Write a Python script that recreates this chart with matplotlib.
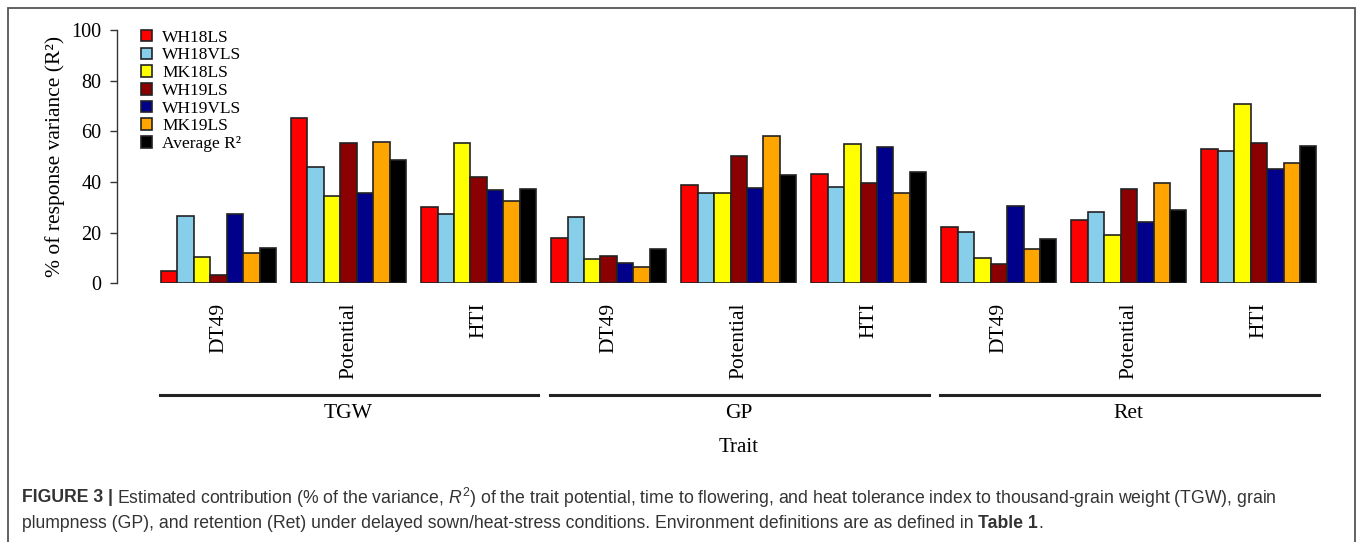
import numpy as np
import matplotlib
matplotlib.use('Agg')
import matplotlib.pyplot as plt
from matplotlib.patches import Rectangle

# Data
groups = ['TGW', 'GP', 'Ret']
predictors = ['DT49', 'Potential', 'HTI']
series = ['WH18LS', 'WH18VLS', 'MK18LS', 'WH19LS', 'WH19VLS', 'MK19LS', 'Average R²']
colors = ['#ff0000', '#87ceeb', '#ffff00', '#8b0000', '#00008b', '#ffa500', '#000000']

# one list per environment, 9 values: TGW(DT49, Potential, HTI), GP(...), Ret(...)
wh18ls = [5.0, 65.1, 30.0, 17.9, 38.8, 43.3, 22.2, 24.9, 53.0]
wh18vls = [26.7, 45.9, 27.4, 26.1, 35.7, 38.2, 20.4, 28.2, 52.4]
mk18ls = [10.3, 34.3, 55.5, 9.5, 35.7, 54.9, 10.1, 19.1, 70.8]
wh19ls = [3.2, 55.5, 42.0, 10.8, 50.4, 39.6, 7.6, 37.1, 55.5]
wh19vls = [27.5, 35.8, 37.0, 8.2, 37.6, 53.7, 30.7, 24.3, 45.3]
mk19ls = [12.1, 55.9, 32.5, 6.3, 58.0, 35.8, 13.4, 39.6, 47.4]
avg_r2 = [14.1, 48.6, 37.1, 13.6, 42.9, 44.1, 17.4, 28.8, 54.3]
values = [wh18ls, wh18vls, mk18ls, wh19ls, wh19vls, mk19ls, avg_r2]

serif = ['Liberation Serif', 'DejaVu Serif']
plt.rcParams['mathtext.fontset'] = 'custom'
plt.rcParams['mathtext.rm'] = 'Liberation Sans'
plt.rcParams['mathtext.it'] = 'Liberation Sans:italic'
W, H = 1357, 542

fig = plt.figure(figsize=(W / 100, H / 100), dpi=100)

# axes placed in pixel terms of the reference
x0_px, x1_px = 117, 1340
y0_px, y100_px = 283.3, 30
ax = fig.add_axes([x0_px / W, 1 - y0_px / H, (x1_px - x0_px) / W, (y0_px - y100_px) / H])

pitch = 130.06
c0 = 218.5
ax.set_xlim((x0_px - c0) / pitch, (x1_px - c0) / pitch)
ax.set_ylim(0, 100)

x = np.arange(9)
bw = 115 / pitch / 7
for i, (vals, col) in enumerate(zip(values, colors)):
    ax.bar(x + (i - 3) * bw, vals, width=bw, color=col, edgecolor='#222222',
           linewidth=1.2, label=series[i])

for s in ['top', 'right', 'bottom']:
    ax.spines[s].set_visible(False)
ax.spines['left'].set_bounds(0, 100)
ax.spines['left'].set_linewidth(1.0)
ax.spines['left'].set_color('#333333')

ax.set_yticks([0, 20, 40, 60, 80, 100])
ax.tick_params(axis='y', direction='out', length=5, width=1.0, color='#333333',
               labelsize=14.5, pad=6)
ax.set_xticks(x)
ax.set_xticklabels(predictors * 3, rotation=90, va='top')
ax.tick_params(axis='x', length=0, labelsize=15.5, pad=14)
for lab in ax.get_xticklabels() + ax.get_yticklabels():
    lab.set_family(serif)

ax.set_ylabel('% of response variance (R²)', family=serif, fontsize=15.5, labelpad=5)

# group brackets and labels
line_y = (y0_px - 395) / (y0_px - y100_px)
glab_y = (y0_px - 414) / (y0_px - y100_px)
trait_y = (y0_px - 448) / (y0_px - y100_px)
trans = matplotlib.transforms.blended_transform_factory(ax.transData, ax.transAxes)
for g, name in enumerate(groups):
    a = g * 3 - 0.45
    b = g * 3 + 2 + 0.46
    ax.plot([a, b], [line_y, line_y], color='#222222', lw=2.2, transform=trans, clip_on=False)
    ax.text(g * 3 + 1, glab_y, name, transform=trans, ha='center', va='center',
            family=serif, fontsize=15.5)
ax.text(4, trait_y, 'Trait', transform=trans, ha='center', va='center', family=serif, fontsize=15)

leg = ax.legend(loc='upper left', bbox_to_anchor=(132 / W, 1 - 21 / H),
                bbox_transform=fig.transFigure, frameon=False, borderpad=0,
                handlelength=0.65, handleheight=0.65, handletextpad=0.6,
                labelspacing=0.1, prop={'family': serif, 'size': 12.5})

# outer frame
fig.patches.append(Rectangle((7.5 / W, -0.05), (1355 - 7.5) / W, 1.05 - 8 / H,
                             transform=fig.transFigure, fill=False,
                             edgecolor='#555555', lw=1.3))

# caption
cap_font = ['Liberation Sans', 'DejaVu Sans']
cap_col = '#333333'
cap_size = 12.7
t1 = fig.text(22 / W, 1 - 498 / H, 'FIGURE 3 |', family=cap_font, fontsize=cap_size,
              fontweight='bold', color=cap_col, va='center')
fig.canvas.draw()
bb = t1.get_window_extent()
fig.text(bb.x1 / W + 4 / W, 1 - 498 / H,
         'Estimated contribution (% of the variance, $R^2$) of the trait potential, time to flowering, '
         'and heat tolerance index to thousand-grain weight (TGW), grain',
         family=cap_font, fontsize=cap_size, color=cap_col, va='center')
t3 = fig.text(22 / W, 1 - 523 / H,
              'plumpness (GP), and retention (Ret) under delayed sown/heat-stress conditions. '
              'Environment definitions are as defined in ',
              family=cap_font, fontsize=cap_size, color=cap_col, va='center')
fig.canvas.draw()
bb3 = t3.get_window_extent()
t4 = fig.text(bb3.x1 / W, 1 - 523 / H, 'Table 1', family=cap_font, fontsize=cap_size,
              fontweight='bold', color=cap_col, va='center')
fig.canvas.draw()
bb4 = t4.get_window_extent()
fig.text(bb4.x1 / W, 1 - 523 / H, '.', family=cap_font, fontsize=cap_size, color=cap_col, va='center')

fig.savefig('out.png', dpi=100)
